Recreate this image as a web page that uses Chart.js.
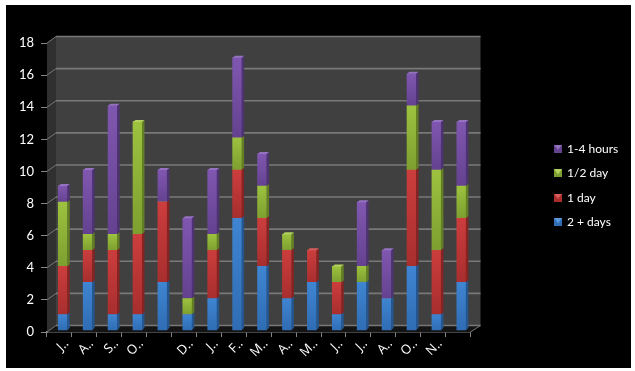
<!DOCTYPE html>
<html>
<head>
<meta charset="utf-8">
<style>
  html, body { margin: 0; padding: 0; background: #fff; overflow: hidden; }
  #frame { position: absolute; left: 6px; top: 5px; width: 625px; height: 363px; background: #000; }
  #wrap { position: absolute; left: 0; top: 0; width: 635px; height: 371px; }
</style>
</head>
<body>
<div id="frame"></div>
<div id="wrap"><canvas id="chart" width="635" height="371"></canvas></div>
<script src="https://cdn.jsdelivr.net/npm/chart.js@4"></script>
<script>
const categories = ['J..', 'A..', 'S..', 'O..', '', 'D..', 'J..', 'F..', 'M..', 'A..', 'M..', 'J..', 'J..', 'A..', 'O..', 'N..', ''];
const twoPlusDays = [1, 3, 1, 1, 3, 1, 2, 7, 4, 2, 3, 1, 3, 2, 4, 1, 3];
const oneDay = [3, 2, 4, 5, 5, 0, 3, 3, 3, 3, 2, 2, 0, 0, 6, 4, 4];
const halfDay = [4, 1, 1, 7, 0, 1, 1, 2, 2, 1, 0, 1, 1, 0, 4, 5, 2];
const oneToFourHours = [1, 4, 8, 0, 2, 5, 4, 5, 2, 0, 0, 0, 4, 3, 2, 3, 4];
const yTicks = [0, 2, 4, 6, 8, 10, 12, 14, 16, 18];

const allSeries = [twoPlusDays, oneDay, halfDay, oneToFourHours];
const names = ['2 + days', '1 day', '1/2 day', '1-4 hours'];
// light, dark, side, cap
const shades = [
  ['#3f85d2', '#2f6cb3', '#25568f', '#5a97dc'],
  ['#cc3d3d', '#a82e2e', '#862424', '#d85e5e'],
  ['#9dc23f', '#7d9f30', '#637f25', '#b3d25f'],
  ['#8057b0', '#644290', '#4e3372', '#9673c2']
];

const FONT = 'Lato, "Open Sans", sans-serif';
const DEPTH_X = 9;      // back wall offset
const DEPTH_Y = 6.5;
const BAR_DX = 3.3;     // bars stand a bit behind the front edge
const BAR_DY = -1.4;
const SIDE_W = 2.5;
const CAP_H = 2;

function segmentFill(ctx) {
  const i = ctx.datasetIndex;
  if (ctx.type !== 'data') return shades[i][0];
  const y = ctx.chart.scales.y;
  let low = 0;
  for (let k = 0; k < i; k++) low += allSeries[k][ctx.dataIndex];
  const high = low + allSeries[i][ctx.dataIndex];
  const y0 = y.getPixelForValue(high);
  const y1 = y.getPixelForValue(low) + 0.01;
  // first pass runs before the scales have a size
  if (!isFinite(y0) || !isFinite(y1)) return shades[i][0];
  const g = ctx.chart.ctx.createLinearGradient(0, y0, 0, y1);
  g.addColorStop(0, shades[i][0]);
  g.addColorStop(1, shades[i][1]);
  return g;
}

// small legend key with the light triangle on top
function legendKey(i) {
  const c = document.createElement('canvas');
  c.width = 8;
  c.height = 8;
  const k = c.getContext('2d');
  k.fillStyle = shades[i][1];
  k.fillRect(0, 0, 8, 8);
  k.fillStyle = shades[i][3];
  k.beginPath();
  k.moveTo(0, 0);
  k.lineTo(8, 0);
  k.lineTo(4, 5);
  k.closePath();
  k.fill();
  return c;
}

// walls, floor and grid of the 3D box
const box3d = {
  id: 'box3d',
  afterLayout(chart) {
    chart.legend.left = 542.5;
    chart.legend.right = 635;
    chart.legend.top = 0;
    chart.legend.bottom = 371;
  },
  beforeDatasetsDraw(chart) {
    const { ctx, chartArea: a, scales } = chart;
    ctx.save();
    // back wall
    ctx.fillStyle = '#404040';
    ctx.fillRect(a.left + DEPTH_X, a.top - DEPTH_Y, a.right - a.left + 1, a.bottom - a.top);
    // side wall
    ctx.fillStyle = '#303030';
    ctx.beginPath();
    ctx.moveTo(a.left, a.bottom);
    ctx.lineTo(a.left + DEPTH_X, a.bottom - DEPTH_Y);
    ctx.lineTo(a.left + DEPTH_X, a.top - DEPTH_Y);
    ctx.lineTo(a.left, a.top);
    ctx.closePath();
    ctx.fill();
    // floor
    ctx.fillStyle = '#141414';
    ctx.beginPath();
    ctx.moveTo(a.left, a.bottom);
    ctx.lineTo(a.left + DEPTH_X, a.bottom - DEPTH_Y);
    ctx.lineTo(a.right + DEPTH_X + 1, a.bottom - DEPTH_Y);
    ctx.lineTo(a.right, a.bottom);
    ctx.closePath();
    ctx.fill();
    // grid lines
    ctx.strokeStyle = '#787878';
    yTicks.forEach(v => {
      const py = scales.y.getPixelForValue(v);
      ctx.lineWidth = 1;
      ctx.beginPath();
      ctx.moveTo(a.left, py);
      ctx.lineTo(a.left + DEPTH_X, py - DEPTH_Y);
      ctx.stroke();
      ctx.lineWidth = 1.6;
      ctx.beginPath();
      ctx.moveTo(a.left + DEPTH_X, py - DEPTH_Y);
      ctx.lineTo(a.right + DEPTH_X + 1, py - DEPTH_Y);
      ctx.stroke();
    });
    ctx.lineWidth = 1;
    ctx.beginPath();
    ctx.moveTo(a.right, a.bottom);
    ctx.lineTo(a.right + DEPTH_X + 1, a.bottom - DEPTH_Y);
    ctx.stroke();
    ctx.restore();
  },
  beforeDatasetDraw(chart) {
    chart.ctx.save();
    chart.ctx.translate(BAR_DX, BAR_DY);
  },
  afterDatasetDraw(chart, args) {
    const { ctx } = chart;
    const i = args.index;
    args.meta.data.forEach((bar, n) => {
      if (!allSeries[i][n]) return;
      const p = bar.getProps(['x', 'y', 'base', 'width'], true);
      const right = p.x + p.width / 2;
      const left = p.x - p.width / 2;
      // side face
      ctx.fillStyle = shades[i][2];
      ctx.beginPath();
      ctx.moveTo(right, p.base);
      ctx.lineTo(right + SIDE_W, p.base - CAP_H);
      ctx.lineTo(right + SIDE_W, p.y - CAP_H);
      ctx.lineTo(right, p.y);
      ctx.closePath();
      ctx.fill();
      // top face, only on the last piece of a stack
      let above = 0;
      for (let k = i + 1; k < allSeries.length; k++) above += allSeries[k][n];
      if (!above) {
        ctx.fillStyle = shades[i][3];
        ctx.beginPath();
        ctx.moveTo(left, p.y);
        ctx.lineTo(left + SIDE_W, p.y - CAP_H);
        ctx.lineTo(right + SIDE_W, p.y - CAP_H);
        ctx.lineTo(right, p.y);
        ctx.closePath();
        ctx.fill();
      }
    });
    ctx.restore();
  }
};

new Chart(document.getElementById('chart'), {
  type: 'bar',
  data: {
    labels: categories,
    datasets: allSeries.map((values, i) => ({
      label: names[i],
      data: values,
      backgroundColor: segmentFill,
      borderWidth: 0,
      barThickness: 9
    }))
  },
  options: {
    responsive: false,
    animation: false,
    layout: { padding: { left: 0, top: 43, right: 124.5, bottom: 0 } },
    plugins: {
      tooltip: { enabled: false },
      legend: {
        position: 'right',
        reverse: true,
        maxWidth: 40,
        labels: {
          color: '#fff',
          usePointStyle: true,
          boxWidth: 6,
          boxHeight: 8,
          padding: 12.5,
          font: { family: FONT, size: 12 },
          generateLabels(chart) {
            return Chart.defaults.plugins.legend.labels.generateLabels(chart)
              .map(item => ({ ...item, pointStyle: legendKey(item.datasetIndex) }));
          }
        }
      }
    },
    scales: {
      x: {
        stacked: true,
        afterFit(s) { s.height = 39; },
        grid: { offset: true, drawOnChartArea: false, color: '#868686', tickLength: 5 },
        border: { color: '#868686', width: 1.5 },
        ticks: {
          color: '#fff',
          autoSkip: false,
          minRotation: 45,
          maxRotation: 45,
          padding: -1,
          labelOffset: 7,
          font: { family: '"Open Sans", sans-serif', size: 13 }
        }
      },
      y: {
        stacked: true,
        min: 0,
        max: 18,
        afterFit(s) { s.width = 47; },
        afterBuildTicks(s) { s.ticks = yTicks.map(v => ({ value: v })); },
        grid: { drawOnChartArea: false, color: '#868686', tickLength: 6 },
        border: { color: '#868686', width: 1 },
        ticks: {
          color: '#fff',
          padding: 7,
          font: { family: FONT, size: 13 }
        }
      }
    }
  },
  plugins: [box3d]
});
</script>
</body>
</html>
